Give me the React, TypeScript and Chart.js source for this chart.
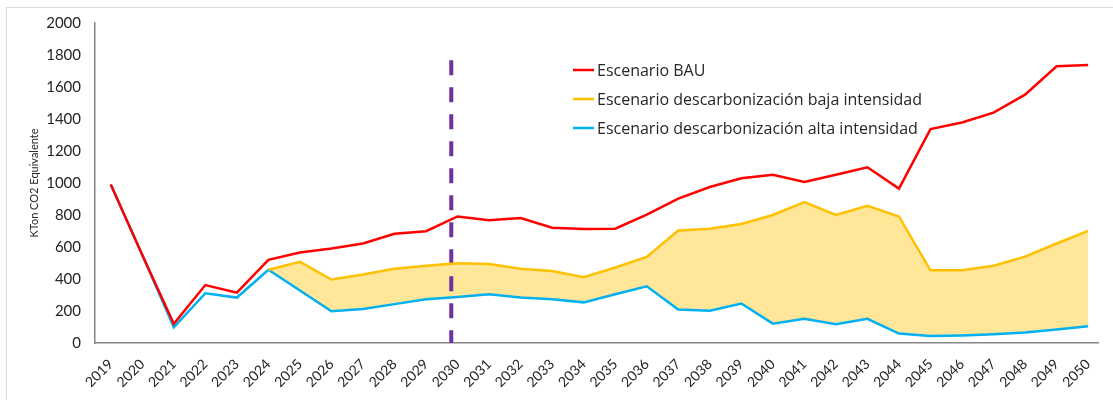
import React, { useEffect, useRef } from "react";
import { Chart, registerables } from "chart.js";

Chart.register(...registerables);

const years = [2019, 2020, 2021, 2022, 2023, 2024, 2025, 2026, 2027, 2028, 2029, 2030, 2031, 2032, 2033, 2034, 2035, 2036, 2037, 2038, 2039, 2040, 2041, 2042, 2043, 2044, 2045, 2046, 2047, 2048, 2049, 2050];

const bauValues = [990, 550, 120, 362, 315, 520, 566, 591, 622, 683, 699, 791, 767, 781, 720, 712, 714, 802, 902, 975, 1030, 1051, 1006, 1051, 1098, 965, 1337, 1378, 1440, 1552, 1730, 1738];

const lowIntensityValues = [null, null, null, null, null, 458, 507, 397, 428, 464, 483, 499, 493, 464, 450, 411, 472, 538, 703, 714, 744, 800, 881, 800, 857, 791, 454, 454, 483, 540, 622, 701];

const highIntensityValues = [990, 550, 98, 311, 284, 458, 328, 198, 213, 243, 274, 288, 305, 284, 274, 254, 305, 354, 209, 202, 247, 121, 151, 117, 151, 59, 43, 47, 55, 66, 84, 104];

const seriesLabels = [
  "Escenario BAU",
  "Escenario descarbonización baja intensidad",
  "Escenario descarbonización alta intensidad",
];
const seriesColors = ["#FF0000", "#FFC000", "#00B0F0"];

const markerYear = [2029.8, 2029.8];
const markerValues = [1767, 0];

const yTicks = [0, 200, 400, 600, 800, 1000, 1200, 1400, 1600, 1800, 2000];
const yTitle = "KTon CO2 Equivalente";

const FONT = "Lato, 'Open Sans', sans-serif";
const LEGEND_FONT = "'Open Sans', Lato, sans-serif";

const legendPlugin = {
  id: "customLegend",
  afterDatasetsDraw(chart: any) {
    const ctx = chart.ctx;
    ctx.save();
    const rows = [70, 99, 128];
    seriesLabels.forEach((label, i) => {
      ctx.strokeStyle = seriesColors[i];
      ctx.lineWidth = 2.5;
      ctx.beginPath();
      ctx.moveTo(573, rows[i]);
      ctx.lineTo(594, rows[i]);
      ctx.stroke();
      ctx.fillStyle = "#262626";
      ctx.font = `16px ${LEGEND_FONT}`;
      ctx.textBaseline = "middle";
      ctx.textAlign = "left";
      ctx.fillText(label, 597, rows[i] + 1);
    });
    ctx.restore();
  },
};

const borderPlugin = {
  id: "outerBorder",
  beforeDraw(chart: any) {
    const ctx = chart.ctx;
    ctx.save();
    ctx.fillStyle = "#FFFFFF";
    ctx.fillRect(0, 0, chart.width, chart.height);
    ctx.strokeStyle = "#D9D9D9";
    ctx.lineWidth = 1;
    ctx.strokeRect(6.5, 7.5, chart.width + 20, chart.height + 20);
    ctx.restore();
  },
};

export default function App() {
  const canvasRef = useRef<HTMLCanvasElement | null>(null);

  useEffect(() => {
    if (!canvasRef.current) return;
    const toPoints = (vals: (number | null)[]) => years.map((x, i) => ({ x, y: vals[i] }));
    const chart = new Chart(canvasRef.current, {
      type: "line",
      data: {
        datasets: [
          {
            label: seriesLabels[0],
            data: toPoints(bauValues),
            borderColor: seriesColors[0],
            backgroundColor: seriesColors[0],
            borderWidth: 2.5,
            pointRadius: 0,
            tension: 0,
            fill: false,
          },
          {
            label: seriesLabels[1],
            data: toPoints(lowIntensityValues),
            borderColor: seriesColors[1],
            backgroundColor: "#FFE699",
            borderWidth: 2.5,
            pointRadius: 0,
            tension: 0,
            fill: { target: "+1", above: "#FFE699", below: "#FFE699" },
          },
          {
            label: seriesLabels[2],
            data: toPoints(highIntensityValues),
            borderColor: seriesColors[2],
            backgroundColor: seriesColors[2],
            borderWidth: 2.5,
            pointRadius: 0,
            tension: 0,
            fill: false,
          },
          {
            label: "2030",
            data: markerYear.map((x, i) => ({ x, y: markerValues[i] })),
            borderColor: "#7030A0",
            borderWidth: 4,
            borderDash: [15, 12],
            borderCapStyle: "butt",
            pointRadius: 0,
            fill: false,
          },
        ],
      },
      options: {
        responsive: false,
        animation: false,
        devicePixelRatio: 1,
        layout: { padding: { left: 20, top: 17, right: 0, bottom: 0 } },
        plugins: {
          legend: { display: false },
          tooltip: { enabled: false },
          filler: { drawTime: "beforeDatasetsDraw" },
        },
        scales: {
          x: {
            type: "linear",
            min: 2018.5,
            max: 2050.34,
            grid: { display: false, drawTicks: false },
            border: { display: true, color: "#868686", width: 1.5 },
            afterBuildTicks: (scale: any) => {
              scale.ticks = years.map((v) => ({ value: v }));
            },
            afterFit: (scale: any) => {
              scale.height = 57;
            },
            ticks: {
              autoSkip: false,
              maxRotation: 45,
              minRotation: 45,
              padding: 13,
              color: "#262626",
              font: { family: FONT, size: 14 },
              callback: (v: any) => String(v),
            },
          },
          y: {
            min: 0,
            max: 2000,
            afterBuildTicks: (scale: any) => {
              scale.ticks = yTicks.map((v) => ({ value: v }));
            },
            afterFit: (scale: any) => {
              scale.width = 75;
            },
            grid: { display: false, drawTicks: false },
            border: { display: true, color: "#868686", width: 1.5 },
            ticks: {
              padding: 14,
              color: "#262626",
              font: { family: FONT, size: 15 },
              callback: (v: any) => String(v),
            },
            title: {
              display: true,
              text: yTitle,
              color: "#262626",
              font: { family: FONT, size: 11 },
              padding: { top: 8, bottom: 0 },
            },
          },
        },
      },
      plugins: [borderPlugin, legendPlugin],
    } as any);
    return () => chart.destroy();
  }, []);

  return (
    <div style={{ position: "absolute", left: 0, top: 0, width: 1113, height: 400 }}>
      <canvas ref={canvasRef} width={1113} height={400} />
    </div>
  );
}
